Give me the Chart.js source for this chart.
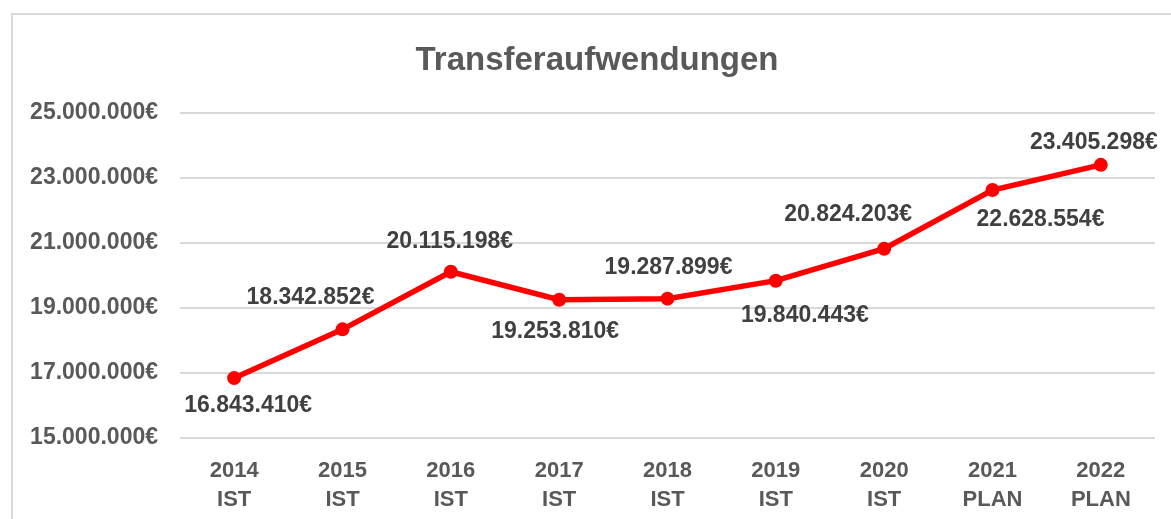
<!DOCTYPE html>
<html>
<head>
<meta charset="utf-8">
<script src="https://cdn.jsdelivr.net/npm/chart.js@4.4.1/dist/chart.umd.min.js"></script>
<style>
  html, body { margin: 0; padding: 0; background: #ffffff; overflow: hidden; width: 1171px; height: 519px; }
  #frame { position: absolute; left: 11px; top: 13px; width: 2000px; height: 2000px; border: 2px solid #d9d9d9; box-sizing: border-box; }
  #wrap { position: absolute; left: 0; top: 0; width: 1171px; height: 519px; }
</style>
</head>
<body>
<div id="frame"></div>
<div id="wrap"><canvas id="c" width="1171" height="519"></canvas></div>
<script>
const years = ["2014", "2015", "2016", "2017", "2018", "2019", "2020", "2021", "2022"];
const status = ["IST", "IST", "IST", "IST", "IST", "IST", "IST", "PLAN", "PLAN"];
const values = [16843410, 18342852, 20115198, 19253810, 19287899, 19840443, 20824203, 22628554, 23405298];
const yMin = 15000000;
const yMax = 25000000;
const yStep = 2000000;
const chartTitle = "Transferaufwendungen";

// label placement (pixel offsets from each point, baseline-aligned)
const labelOffsets = [
  [14, 34], [-32, -25], [-1, -24], [-4, 38], [1, -25],
  [29, 41], [-36, -28], [48, 36], [-7, -16]
];

const FONT = "'Liberation Sans', Arial, sans-serif";

function fmtEuro(v) {
  return String(Math.round(v)).replace(/\B(?=(\d{3})+(?!\d))/g, ".") + "€";
}

const labels = years.map((y, i) => [y, status[i]]);

const titlePlugin = {
  id: 'customTitle',
  afterDraw(chart) {
    const ctx = chart.ctx;
    ctx.save();
    ctx.font = "bold 33px " + FONT;
    ctx.fillStyle = "#595959";
    ctx.textAlign = "center";
    ctx.textBaseline = "alphabetic";
    ctx.fillText(chartTitle, 597, 70);
    ctx.restore();
  }
};

const dataLabelPlugin = {
  id: 'dataLabels',
  afterDatasetsDraw(chart) {
    const ctx = chart.ctx;
    const meta = chart.getDatasetMeta(0);
    ctx.save();
    ctx.font = "bold 23px " + FONT;
    ctx.fillStyle = "#404040";
    ctx.textAlign = "center";
    ctx.textBaseline = "alphabetic";
    meta.data.forEach((pt, i) => {
      const off = labelOffsets[i];
      ctx.fillText(fmtEuro(values[i]), pt.x + off[0], pt.y + off[1]);
    });
    ctx.restore();
  }
};

new Chart(document.getElementById('c'), {
  type: 'line',
  data: {
    labels: labels,
    datasets: [{
      data: values,
      borderColor: '#ff0000',
      backgroundColor: '#ff0000',
      borderWidth: 5.5,
      pointRadius: 7,
      pointBorderWidth: 0,
      pointBackgroundColor: '#ff0000',
      tension: 0,
      fill: false
    }]
  },
  options: {
    responsive: false,
    animation: false,
    devicePixelRatio: 1,
    layout: { padding: { top: 113, right: 16, bottom: 0, left: 0 } },
    plugins: {
      legend: { display: false },
      title: { display: false },
      tooltip: { enabled: false }
    },
    scales: {
      x: {
        offset: true,
        grid: { display: false },
        border: { display: false },
        ticks: {
          color: '#595959',
          font: { family: FONT, size: 22, weight: 'bold', lineHeight: 1.32 },
          padding: 10,
          maxRotation: 0,
          autoSkip: false
        },
        afterFit(scale) { scale.height = 81; }
      },
      y: {
        min: yMin,
        max: yMax,
        grid: { color: '#d9d9d9', lineWidth: 2, drawTicks: false },
        border: { display: false },
        ticks: {
          stepSize: yStep,
          color: '#595959',
          padding: 22,
          font: { family: FONT, size: 23, weight: 'bold' },
          callback: (v) => fmtEuro(v)
        },
        afterFit(scale) { scale.width = 180; }
      }
    }
  },
  plugins: [titlePlugin, dataLabelPlugin]
});
</script>
</body>
</html>
